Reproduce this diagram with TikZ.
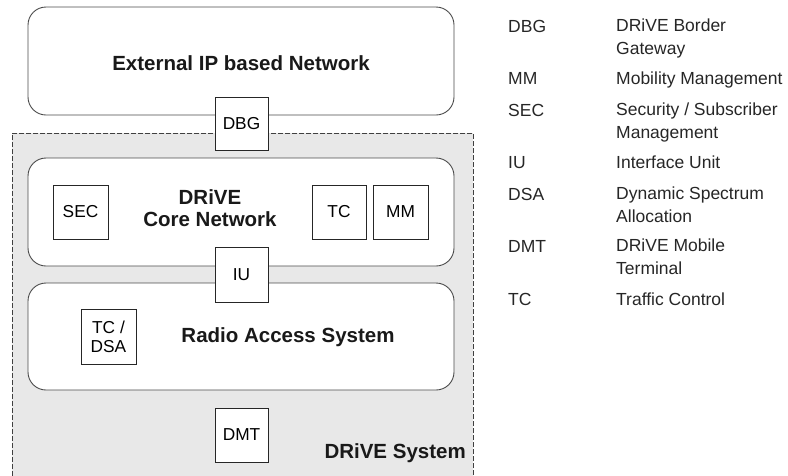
\documentclass[tikz,border=0pt]{standalone}
\usepackage{fontspec}
\setmainfont{Liberation Sans}
\begin{document}
\begin{tikzpicture}[x=1pt,y=-1pt,
  bigbox/.style={draw=black!70,line width=0.9pt,fill=white,rounded corners=18pt,
    minimum width=426pt,inner sep=0pt},
  unitbox/.style={draw=black!85,line width=1pt,fill=white,inner sep=0pt,
    font=\fontsize{17.3}{19}\selectfont,align=center},
  boldlbl/.style={font=\bfseries\fontsize{20.5}{22.5}\selectfont,text=black!90,align=center,inner sep=0pt},
  abbr/.style={anchor=base west,inner sep=0pt,font=\fontsize{17.5}{22}\selectfont,text=black!85},
  desc/.style={anchor=base west,inner sep=0pt,font=\fontsize{17.5}{22.5}\selectfont,text=black!85,align=left}
]
\useasboundingbox (0,0) rectangle (788,475);
\begin{scope}
\clip (0,0) rectangle (788,475);
\node[draw=black!75,line width=0.9pt,dash pattern=on 5pt off 2pt,fill=black!9,
  minimum width=461pt,minimum height=357pt,inner sep=0pt,anchor=north west] (sys) at (12,133) {};
\end{scope}
% big boxes
\node[bigbox,minimum height=108pt] (ext) at (241,61) {};
\node[boldlbl] (extlbl) at (241,63) {External IP based Network};
\node[bigbox,minimum height=108pt] (core) at (241,212) {};
\node[boldlbl] (corelbl) at (210,208) {DRiVE\\Core Network};
\node[bigbox,minimum height=107pt] (ras) at (241,336.5) {};
\node[boldlbl] (raslbl) at (288,337) {Radio Access System};
% small units
\node[unitbox,minimum width=53pt,minimum height=53pt] (dbg) at (241.5,123.5) {DBG};
\node[unitbox,minimum width=55pt,minimum height=54pt] (sec) at (80.5,212) {SEC};
\node[unitbox,minimum width=54pt,minimum height=54pt] (tc) at (339,212) {TC};
\node[unitbox,minimum width=55pt,minimum height=54pt] (mm) at (400.5,212) {MM};
\node[unitbox,minimum width=53pt,minimum height=55pt] (iu) at (241.5,274.5) {IU};
\node[unitbox,minimum width=55pt,minimum height=55pt] (tcdsa) at (108.5,336.5) {TC /\\DSA};
\node[unitbox,minimum width=53pt,minimum height=54pt] (dmt) at (241.5,435) {DMT};
\node[boldlbl,anchor=east] (syslbl) at (466,453) {DRiVE System};
% legend
\node[abbr] (a1) at (508,32) {DBG};
\node[desc] (d1) at (616,54) {DRiVE Border\\Gateway};
\node[abbr] (a2) at (508,84) {MM};
\node[desc] (d2) at (616,84) {Mobility Management};
\node[abbr] (a3) at (508,116) {SEC};
\node[desc] (d3) at (616,138) {Security / Subscriber\\Management};
\node[abbr] (a4) at (508,168) {IU};
\node[desc] (d4) at (616,168) {Interface Unit};
\node[abbr] (a5) at (508,200) {DSA};
\node[desc] (d5) at (616,222) {Dynamic Spectrum\\Allocation};
\node[abbr] (a6) at (508,252) {DMT};
\node[desc] (d6) at (616,274) {DRiVE Mobile\\Terminal};
\node[abbr] (a7) at (508,305) {TC};
\node[desc] (d7) at (616,305) {Traffic Control};
\end{tikzpicture}
\end{document}
